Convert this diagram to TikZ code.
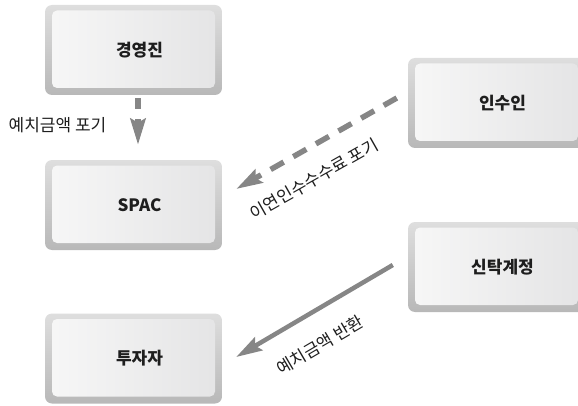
\documentclass[tikz,border=0pt]{standalone}
\usepackage{fontspec}
\newfontfamily\krfont{Noto Sans CJK KR}
\usetikzlibrary{arrows.meta}

% key-cap colours
\definecolor{capTop}{RGB}{222,222,222}
\definecolor{capBot}{RGB}{184,184,184}
\definecolor{faceL}{RGB}{247,247,247}
\definecolor{faceR}{RGB}{228,228,229}
% connectors and text
\definecolor{flow}{RGB}{134,134,134}
\definecolor{ink}{RGB}{30,30,30}

\begin{document}
\begin{tikzpicture}[x=1pt,y=1pt,
  keycap/.style={minimum width=177pt, minimum height=90pt, inner sep=0pt,
    rounded corners=7pt, top color=capTop, bottom color=capBot,
    path picture={
      \shade[rounded corners=5pt, left color=faceL, right color=faceR]
        ([shift={(7pt,7pt)}]path picture bounding box.south west)
        rectangle ([shift={(-7pt,-5.5pt)}]path picture bounding box.north east);
    }},
  keytext/.style={xshift=6pt, text=ink,
    font=\krfont\bfseries\fontsize{17}{20}\selectfont},
  flowline/.style={draw=flow, -{Stealth[length=26pt,width=15pt,inset=4pt]}},
  note/.style={text=ink, inner sep=0pt,
    font=\krfont\fontsize{17}{20}\selectfont}]

\path[use as bounding box] (0,0) rectangle (578,405);
\clip (0,0) rectangle (578,405);

% parties
\node[keycap, label={[keytext]center:경영진}] (exec) at (133.5,355) {};
\node[keycap, label={[keytext]center:SPAC}] (spac) at (133.5,200) {};
\node[keycap, label={[keytext]center:투자자}] (inv) at (133.5,46.5) {};
\node[keycap, label={[keytext]center:인수인}] (und) at (496.5,302) {};
\node[keycap, label={[keytext]center:신탁계정}] (trust) at (496.5,138) {};

% flows
\draw[flowline, line width=5.5pt, dash pattern=on 11pt off 10pt]
  ([xshift=4.5pt,yshift=-3pt]exec.south) -- ([xshift=4.5pt,yshift=15pt]spac.north);
\draw[flowline, line width=5.5pt, dash pattern=on 15pt off 11pt]
  ([shift={(-11pt,5pt)}]und.west) -- ([shift={(14pt,16pt)}]spac.east);
\draw[flowline, line width=4.5pt]
  ([shift={(-15pt,2pt)}]trust.west) -- ([shift={(14pt,1.5pt)}]inv.east);

% flow labels
\node[note] (lbl1) at (57.5,280) {예치금액 포기};
\node[note, rotate=29.5] (lbl2) at (314,226) {이연인수수수료 포기};
\node[note, rotate=30.4] (lbl3) at (320,60) {예치금액 반환};
\end{tikzpicture}
\end{document}
